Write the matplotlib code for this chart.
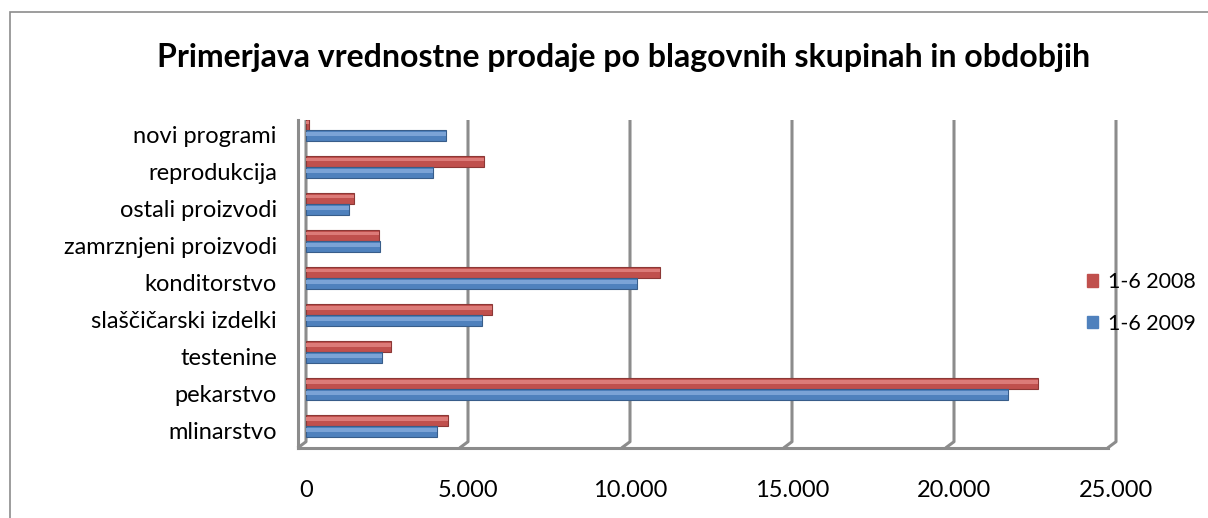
import numpy as np
import matplotlib.pyplot as plt
from matplotlib.patches import Rectangle

plt.rcParams['font.family'] = ['Lato', 'DejaVu Sans']

categories = ['mlinarstvo', 'pekarstvo', 'testenine', 'slaščičarski izdelki',
              'konditorstvo', 'zamrznjeni proizvodi', 'ostali proizvodi',
              'reprodukcija', 'novi programi']
sales_2008 = [4380, 22590, 2620, 5740, 10930, 2250, 1480, 5490, 80]
sales_2009 = [4040, 21670, 2350, 5430, 10220, 2280, 1330, 3920, 4320]
series_names = ['1-6 2008', '1-6 2009']
xticks = [0, 5000, 10000, 15000, 20000, 25000]
xtick_labels = ['0', '5.000', '10.000', '15.000', '20.000', '25.000']

red, red_dark, red_light = '#C0504D', '#8C3836', '#DC7B78'
blue, blue_dark, blue_light = '#4F81BD', '#385D8A', '#7BA3D6'
grid_col = '#8C8C8C'

fig = plt.figure(figsize=(12.08, 5.18), dpi=100)
W, H = 1208, 518

# outer chart border (right and bottom edges fall outside the picture)
fig.patches.append(Rectangle((10 / W, -0.2), 1.2, 1.2 - 12 / H, transform=fig.transFigure,
                             fill=False, edgecolor='#8C8C8C', linewidth=1.2))

ax = fig.add_axes([306 / W, 1 - 448 / H, 810 / W, 328 / H])
ax.set_xlim(0, 25000)
ax.set_ylim(-0.58, 8.28)

y = np.arange(len(categories))
h = 0.30

def bars(vals, offset, col, dark, light):
    ax.barh(y + offset, vals, height=h, color=col, edgecolor=dark, linewidth=0.8, zorder=3)
    # highlight stripe for a rounded look
    ax.barh(y + offset + h * 0.12, vals, height=h * 0.3, color=light, linewidth=0, zorder=4)

bars(sales_2008, h / 2 + 0.02, red, red_dark, red_light)
bars(sales_2009, -h / 2 + 0.02, blue, blue_dark, blue_light)

# 3d-like walls and floor
dx, dy = 260, 0.17
y_top, y_bot = 8.28, -0.58
for xv in xticks:
    ax.plot([xv, xv, xv - dx], [y_top, y_bot + dy, y_bot], color=grid_col, lw=2.2,
            zorder=1, clip_on=False, solid_capstyle='butt')
ax.plot([-dx, 25000 - dx], [y_bot, y_bot], color=grid_col, lw=2.2, zorder=1, clip_on=False)
ax.plot([-dx, -dx], [y_top, y_bot], color=grid_col, lw=2.2, zorder=1, clip_on=False)

for s in ax.spines.values():
    s.set_visible(False)
ax.set_xticks(xticks)
ax.set_xticklabels(xtick_labels, fontsize=17)
ax.set_yticks(y - 0.1)
ax.set_yticklabels(categories, fontsize=17)
ax.tick_params(length=0)
ax.tick_params(axis='x', pad=23)
ax.tick_params(axis='y', pad=21)

fig.text(0.5166, 1 - 58 / H, 'Primerjava vrednostne prodaje po blagovnih skupinah in obdobjih',
         ha='center', va='center', fontsize=23, fontweight='bold')

handles = [Rectangle((0, 0), 1, 1, color=red), Rectangle((0, 0), 1, 1, color=blue)]
fig.legend(handles, series_names, loc='center left', bbox_to_anchor=(1068 / W, 1 - 303 / H),
           frameon=False, fontsize=15.5, handlelength=0.5, handleheight=0.5,
           handletextpad=0.45, labelspacing=1.0)

fig.savefig('out.png', dpi=100)
